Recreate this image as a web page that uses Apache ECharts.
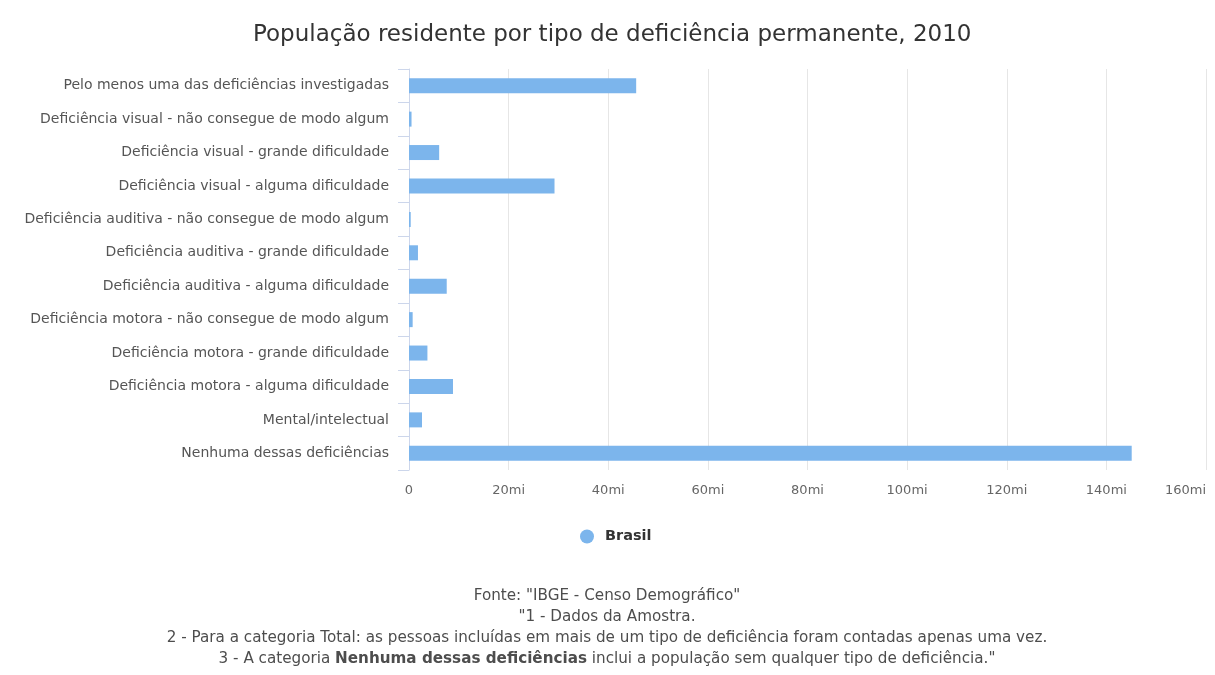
<!DOCTYPE html>
<html>
<head>
<meta charset="utf-8">
<script src="https://cdn.jsdelivr.net/npm/echarts@6/dist/echarts.min.js"></script>
<style>
html,body{margin:0;padding:0;background:#fff;}
#chart{width:1215px;height:675px;}
</style>
</head>
<body>
<div id="chart"></div>
<script>
const categories = [
  "Pelo menos uma das deficiências investigadas",
  "Deficiência visual - não consegue de modo algum",
  "Deficiência visual - grande dificuldade",
  "Deficiência visual - alguma dificuldade",
  "Deficiência auditiva - não consegue de modo algum",
  "Deficiência auditiva - grande dificuldade",
  "Deficiência auditiva - alguma dificuldade",
  "Deficiência motora - não consegue de modo algum",
  "Deficiência motora - grande dificuldade",
  "Deficiência motora - alguma dificuldade",
  "Mental/intelectual",
  "Nenhuma dessas deficiências"
];
const brasil = [45606048, 506377, 6056533, 29211482, 344206, 1798967, 7574145, 734421, 3698929, 8832249, 2611536, 145084976];
const seriesName = "Brasil";
const titleText = "População residente por tipo de deficiência permanente, 2010";
const footLines = [
  'Fonte: "IBGE - Censo Demográfico"',
  '"1 - Dados da Amostra.',
  '2 - Para a categoria Total: as pessoas incluídas em mais de um tipo de deficiência foram contadas apenas uma vez.'
];
const footLast = ['3 - A categoria ', 'Nenhuma dessas deficiências', ' inclui a população sem qualquer tipo de deficiência."'];
const xMax = 160000000;
const xInterval = 20000000;

const footText = footLines.map(s => '{n|' + s + '}').join('\n') +
  '\n{n|' + footLast[0] + '}{b|' + footLast[1] + '}{n|' + footLast[2] + '}';

const chart = echarts.init(document.getElementById('chart'), null, {renderer: 'canvas'});
chart.setOption({
  animation: false,
  backgroundColor: '#fff',
  title: {
    text: titleText,
    left: 248,
    top: 19,
    textStyle: {fontFamily: 'DejaVu Sans', fontSize: 23, fontWeight: 'normal', color: '#333'}
  },
  graphic: [{
    type: 'text',
    x: 607,
    y: 586,
    style: {
      text: footText,
      align: 'center',
      verticalAlign: 'top',
      rich: {
        n: {fontFamily: 'DejaVu Sans', fontSize: 15.2, fill: '#4d4d4d', lineHeight: 21},
        b: {fontFamily: 'DejaVu Sans', fontSize: 15.2, fill: '#4d4d4d', fontWeight: 'bold', lineHeight: 21}
      }
    }
  }],
  legend: {
    data: [seriesName],
    top: 524,
    left: 575,
    icon: 'circle',
    itemWidth: 14,
    itemHeight: 14,
    textStyle: {fontFamily: 'DejaVu Sans', fontSize: 14.5, fontWeight: 'bold', color: '#333', padding: [0, 0, 0, 6]}
  },
  grid: {left: 409, right: 9, top: 69, bottom: 205, containLabel: false, outerBoundsMode: 'none'},
  xAxis: {
    type: 'value',
    min: 0,
    max: xMax,
    interval: xInterval,
    axisLine: {show: false},
    axisTick: {show: false},
    splitLine: {lineStyle: {color: '#e6e6e6', width: 1}},
    axisLabel: {
      margin: 14,
      fontFamily: 'DejaVu Sans',
      fontSize: 13,
      color: '#666',
      alignMaxLabel: 'right',
      formatter: function (v) { return v === 0 ? '0' : (v / 1000000) + 'mi'; }
    }
  },
  yAxis: {
    type: 'category',
    data: categories,
    inverse: true,
    axisLine: {show: true, lineStyle: {color: '#ccd6eb'}},
    axisTick: {show: true, length: 11, lineStyle: {color: '#ccd6eb'}},
    splitLine: {show: false},
    axisLabel: {
      margin: 20,
      fontFamily: 'DejaVu Sans',
      fontSize: 14,
      color: '#555'
    }
  },
  series: [{
    name: seriesName,
    type: 'bar',
    data: brasil,
    barWidth: 15,
    itemStyle: {color: '#7cb5ec'}
  }]
});
</script>
</body>
</html>
